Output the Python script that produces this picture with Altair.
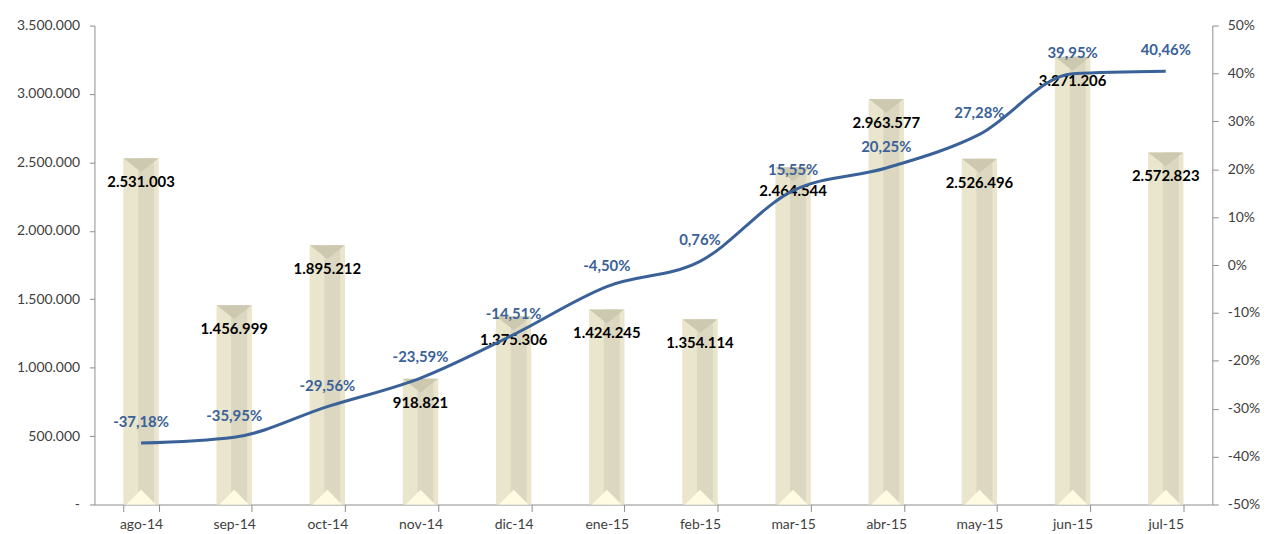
import altair as alt
import pandas as pd

months = ["ago-14", "sep-14", "oct-14", "nov-14", "dic-14", "ene-15",
          "feb-15", "mar-15", "abr-15", "may-15", "jun-15", "jul-15"]
values = [2531003, 1456999, 1895212, 918821, 1375306, 1424245,
          1354114, 2464544, 2963577, 2526496, 3271206, 2572823]
pct = [-0.3718, -0.3595, -0.2956, -0.2359, -0.1451, -0.0450,
       0.0076, 0.1555, 0.2025, 0.2728, 0.3995, 0.4046]

df = pd.DataFrame({"month": months, "value": values, "pct": pct})

FONT = "Lato"
AX = "#404040"
LINE = "#3A6198"
NB = "\u00a0"

x = alt.X("month:N", sort=months, title=None,
          scale=alt.Scale(paddingInner=0.62, paddingOuter=0.31),
          axis=alt.Axis(labelAngle=0, labelFont=FONT, labelFontSize=14, labelColor=AX,
                        domainColor="#8c8c8c", tickColor="#8c8c8c", tickSize=7,
                        tickBand="extent", labelPadding=6, grid=False))

left_axis = alt.Axis(values=list(range(0, 3500001, 500000)), format=",d",
                     labelExpr=f"datum.value == 0 ? '-{NB * 4}' : datum.label",
                     labelFont=FONT, labelFontSize=14, labelColor=AX,
                     domainColor="#8c8c8c", tickColor="#8c8c8c", tickSize=5,
                     labelPadding=10, grid=False)
lscale = alt.Scale(domain=[0, 3500000], nice=False)
yl = alt.Y("value:Q", title=None, scale=lscale, axis=left_axis)

base = alt.Chart(df)

bar = base.mark_bar(color="#EAE5CD").encode(x=x, y=yl)
strip = base.mark_bar(color="#DBD7C1", width=alt.RelativeBandSize(0.45), xOffset=5).encode(
    x=x, y=yl)
top_tri = base.mark_point(shape="M-1,0L1,0L0,0.8Z", filled=True, opacity=1,
                          color="#CDC8B0", size=1225, strokeWidth=0).encode(x=x, y=yl)
bot_tri = base.mark_point(shape="M-0.85,0L0.85,0L0,-0.85Z", filled=True, opacity=1,
                          color="#FFFBE2", size=1225, strokeWidth=0).encode(
    x=x, y=alt.Y("zero:Q", title=None, scale=lscale, axis=left_axis)
).transform_calculate(zero="0")
bar_labels = base.mark_text(font=FONT, fontSize=15, fontWeight="bold", color="#000000",
                            dy=24).encode(
    x=x, y=yl, text=alt.Text("value:Q", format=",d"))

left = alt.layer(bar, strip, top_tri, bot_tri, bar_labels)

right_axis = alt.Axis(orient="right", values=[i / 10 for i in range(-5, 6)], format=".0%",
                      labelFont=FONT, labelFontSize=14, labelColor=AX,
                      domainColor="#8c8c8c", tickColor="#8c8c8c", tickSize=6,
                      labelPadding=9, grid=False)
yr = alt.Y("pct:Q", title=None, scale=alt.Scale(domain=[-0.5, 0.5], nice=False), axis=right_axis)

line = base.mark_line(color=LINE, strokeWidth=3, interpolate="monotone").encode(x=x, y=yr)
pct_labels = base.mark_text(font=FONT, fontSize=15, fontWeight="bold", color=LINE,
                            dy=-21).encode(
    x=x, y=yr, text=alt.Text("pct:Q", format=".2%"))

right = alt.layer(line, pct_labels)

chart = alt.layer(left, right).resolve_scale(y="independent").properties(
    width=1125, height=482,
    autosize=alt.AutoSizeParams(type="none"),
    padding={"left": 87, "top": 16, "right": 52, "bottom": 26},
).configure(
    locale={"number": {"decimal": ",", "thousands": ".", "grouping": [3],
                       "currency": ["", " €"], "minus": "-"}}
).configure_view(stroke=None)

chart.save("out.html", embed_options={"renderer": "svg", "actions": False})
